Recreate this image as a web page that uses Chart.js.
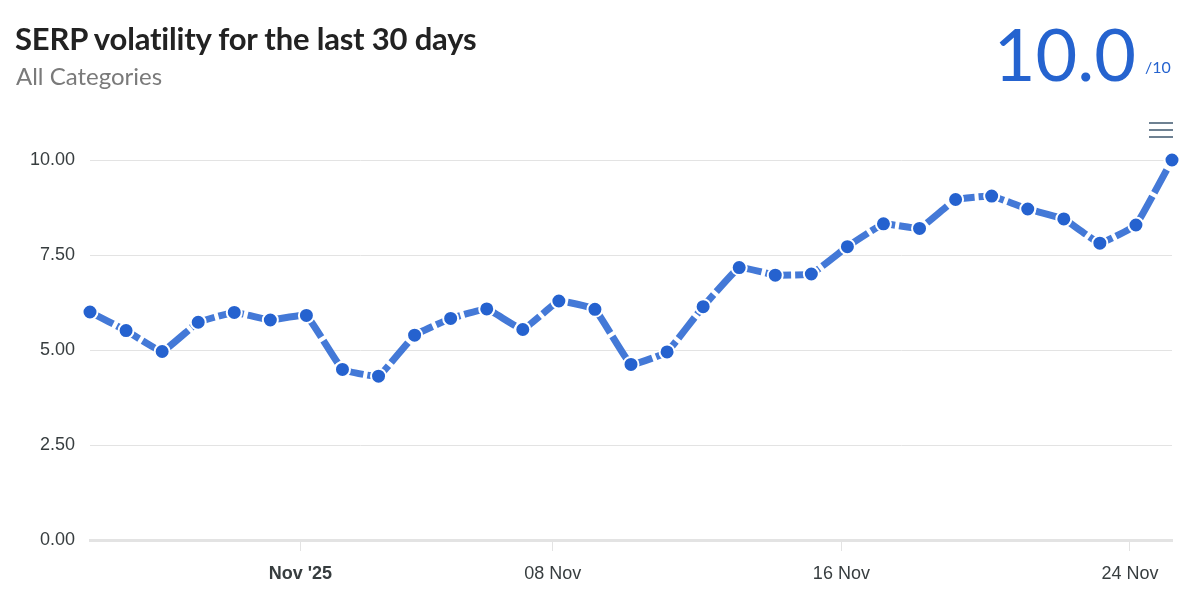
<!DOCTYPE html>
<html>
<head>
<meta charset="utf-8">
<script src="https://cdn.jsdelivr.net/npm/chart.js@4/dist/chart.umd.min.js"></script>
<style>
  html, body { margin: 0; padding: 0; background: #fff; }
  .wrap { position: relative; width: 1200px; height: 611px; overflow: hidden; font-family: Lato, "Open Sans", sans-serif; }
  .title { position: absolute; left: 15px; top: 19px; font-size: 31px; font-weight: 700; color: #222; letter-spacing: -0.2px; }
  .subtitle { position: absolute; left: 16px; top: 61px; font-size: 24px; color: #7a7a7a; }
  .score { position: absolute; right: 64px; top: 10px; font-size: 72px; font-weight: 400; color: #2563cf; }
  .outof { position: absolute; left: 1145px; top: 57px; font-size: 16px; color: #2563cf; }
  .menu { position: absolute; left: 1149px; top: 122px; width: 24px; }
  .menu div { height: 2px; background: #6e8192; margin-bottom: 5px; }
  canvas { position: absolute; left: 0; top: 0; }
</style>
</head>
<body>
<div class="wrap">
  <canvas id="volChart" width="1200" height="611"></canvas>
  <div class="title">SERP volatility for the last 30 days</div>
  <div class="subtitle">All Categories</div>
  <div class="score">10.0</div>
  <div class="outof">/10</div>
  <div class="menu"><div></div><div></div><div></div></div>
</div>
<script>
// daily samples (taken a few hours after midnight)
const days = [
  '2025-10-26', '2025-10-27', '2025-10-28', '2025-10-29', '2025-10-30', '2025-10-31',
  '2025-11-01', '2025-11-02', '2025-11-03', '2025-11-04', '2025-11-05', '2025-11-06',
  '2025-11-07', '2025-11-08', '2025-11-09', '2025-11-10', '2025-11-11', '2025-11-12',
  '2025-11-13', '2025-11-14', '2025-11-15', '2025-11-16', '2025-11-17', '2025-11-18',
  '2025-11-19', '2025-11-20', '2025-11-21', '2025-11-22', '2025-11-23', '2025-11-24',
  '2025-11-25'
];
const sampleTime = 'T04:00:00Z';
const volatility = [
  6.00, 5.51, 4.96, 5.73, 5.99, 5.79, 5.91, 4.49, 4.31, 5.39,
  5.83, 6.08, 5.54, 6.29, 6.07, 4.62, 4.95, 6.14, 7.17, 6.97,
  7.00, 7.72, 8.32, 8.20, 8.96, 9.05, 8.71, 8.45, 7.81, 8.29,
  10.00
];
const tickDays = ['2025-11-01', '2025-11-08', '2025-11-16', '2025-11-24'];
const tickLabels = ["Nov '25", '08 Nov', '16 Nov', '24 Nov'];
const yTicks = [0, 2.5, 5, 7.5, 10];

const toMs = s => Date.parse(s + 'T00:00:00Z');
const points = days.map((d, i) => ({ x: Date.parse(d + sampleTime), y: volatility[i] }));
const tickMs = tickDays.map(toMs);

const textColor = '#373d3f';
const gridColor = '#e3e3e3';
const labelFont = 'Liberation Sans, Arial, sans-serif';

new Chart(document.getElementById('volChart'), {
  type: 'line',
  data: {
    datasets: [{
      data: points,
      borderColor: '#4479d7',
      borderWidth: 7,
      borderDash: [26, 4],
      tension: 0.08,
      pointRadius: 7.5,
      pointBackgroundColor: '#2562cf',
      pointBorderColor: '#ffffff',
      pointBorderWidth: 2,
      clip: false,
      fill: false
    }]
  },
  options: {
    responsive: false,
    animation: false,
    layout: { padding: { top: 160, right: 28, left: 0, bottom: 0 } },
    plugins: { legend: { display: false }, tooltip: { enabled: false } },
    scales: {
      x: {
        type: 'linear',
        min: points[0].x,
        max: points[points.length - 1].x,
        afterFit: s => { s.height = 71; },
        afterBuildTicks: s => { s.ticks = tickMs.map(v => ({ value: v })); },
        grid: { drawOnChartArea: false, drawTicks: true, tickLength: 11, tickColor: gridColor },
        border: { display: true, color: gridColor, width: 3 },
        ticks: {
          padding: 12,
          maxRotation: 0,
          autoSkip: false,
          color: textColor,
          font: ctx => ({ family: labelFont, size: 18, weight: ctx.index === 0 ? 'bold' : 'normal' }),
          callback: (v, i) => tickLabels[i]
        }
      },
      y: {
        min: 0,
        max: 10,
        afterFit: s => { s.width = 90; },
        afterBuildTicks: s => { s.ticks = yTicks.map(v => ({ value: v })); },
        grid: { color: gridColor, drawTicks: false },
        border: { display: false },
        ticks: {
          padding: 15,
          color: textColor,
          font: { family: labelFont, size: 18 },
          callback: v => v.toFixed(2)
        }
      }
    }
  }
});
</script>
</body>
</html>
